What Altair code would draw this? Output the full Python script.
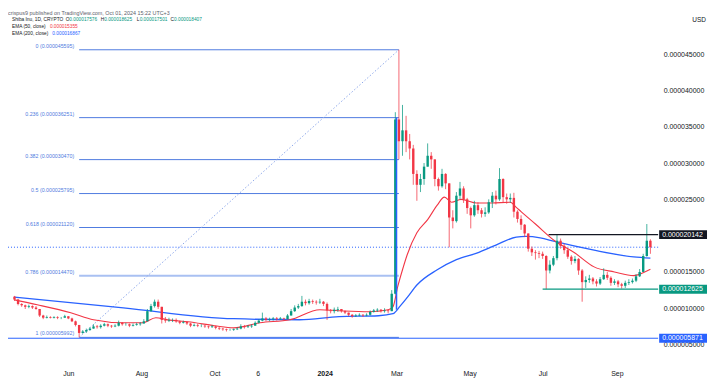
import altair as alt
import pandas as pd

# ---------------- data (prices in millionths of USD: 1 = 0.000001) ----------------
candle_start = "2023-04-17"      # 3-day candles
candle_step_days = 3
first_open = 11.6
close = [
    11.2, 10.6, 10.4, 10.2, 10.3, 10.1, 9.9, 9.0, 8.7, 8.8,
    8.7, 8.8, 8.7, 8.7, 8.9, 8.6, 8.2, 7.7, 6.6, 6.8,
    7.0, 7.2, 7.5, 7.4, 7.6, 7.8, 7.6, 7.5, 7.6, 8.0,
    7.8, 7.8, 7.6, 7.7, 7.8, 7.9, 8.2, 9.6, 10.3, 10.9,
    10.2, 8.4, 8.3, 8.4, 8.4, 8.2, 8.0, 8.1, 7.9, 7.6,
    7.7, 7.6, 7.6, 7.5, 7.4, 7.5, 7.3, 7.2, 7.1, 7.0,
    7.0, 7.1, 7.2, 7.5, 7.4, 7.5, 7.6, 8.0, 8.3, 8.6,
    8.4, 8.5, 8.6, 8.5, 8.6, 8.5, 9.0, 9.6, 10.1, 10.3,
    10.9, 10.7, 11.0, 10.9, 10.8, 10.9, 10.6, 9.7, 9.6, 9.8,
    9.9, 9.6, 9.4, 9.1, 8.9, 9.0, 9.1, 9.0, 9.1, 9.5,
    9.7, 9.8, 9.6, 9.7, 9.6, 12.0, 36.0, 33.0, 34.5, 33.0,
    32.0, 28.5, 27.0, 27.8, 29.5, 31.0, 30.5, 27.8, 26.8, 28.5,
    27.2, 22.5, 22.0, 25.5, 26.5, 25.0, 23.8, 22.8, 24.2, 23.5,
    23.0, 23.2, 24.6, 25.5, 25.0, 27.8, 25.3, 25.0, 25.2, 23.3,
    22.3, 21.5, 20.3, 18.2, 17.7, 17.6, 17.5, 17.2, 15.2, 16.0,
    16.9, 19.3, 18.6, 18.0, 17.1, 16.5, 16.8, 15.2, 13.6, 13.9,
    14.1, 13.7, 13.4, 14.0, 14.6, 14.2, 13.5, 13.7, 13.3, 13.1,
    13.5, 13.6, 13.8, 14.4, 15.0, 17.2, 19.3, 18.407,
]
high = [
    11.7, 11.3, 10.7, 10.5, 10.5, 10.4, 10.3, 9.9, 9.1, 9.0,
    8.9, 8.9, 8.9, 8.8, 9.1, 8.9, 8.7, 8.3, 7.7, 7.0,
    7.2, 7.4, 7.8, 7.7, 7.8, 8.0, 7.9, 7.7, 7.8, 8.3,
    8.1, 8.0, 7.9, 7.9, 8.0, 8.1, 8.5, 9.9, 10.6, 11.2,
    11.2, 10.2, 8.8, 8.7, 8.6, 8.6, 8.3, 8.3, 8.2, 8.0,
    7.9, 7.9, 7.8, 7.7, 7.6, 7.7, 7.6, 7.4, 7.3, 7.2,
    7.2, 7.2, 7.4, 7.8, 7.7, 7.7, 7.8, 8.2, 8.5, 9.4,
    8.8, 8.7, 8.8, 8.8, 8.8, 8.7, 9.2, 9.9, 10.4, 10.6,
    11.7, 11.2, 11.3, 11.2, 11.1, 11.3, 11.0, 10.8, 9.9, 10.1,
    10.2, 9.9, 9.7, 9.4, 9.2, 9.2, 9.3, 9.2, 9.3, 9.7,
    9.9, 10.0, 9.9, 10.0, 9.8, 12.5, 37.0, 45.6, 38.0, 36.5,
    34.0, 32.5, 29.0, 28.5, 30.0, 32.7, 31.5, 30.5, 28.0, 29.2,
    28.6, 27.2, 23.5, 26.0, 27.4, 26.8, 25.2, 24.0, 24.8, 24.6,
    23.8, 23.9, 25.0, 26.0, 26.2, 29.3, 27.9, 25.8, 25.8, 25.9,
    23.5, 22.8, 21.6, 20.3, 18.5, 18.0, 17.9, 17.8, 17.3, 16.6,
    17.2, 20.142, 19.6, 18.9, 18.2, 17.3, 17.2, 16.9, 15.4, 14.4,
    14.6, 14.3, 14.0, 14.3, 15.5, 15.0, 14.4, 14.0, 13.9, 13.5,
    13.8, 14.0, 14.1, 14.7, 15.4, 17.5, 21.6, 19.5,
]
low = [
    11.0, 10.4, 10.2, 9.9, 10.0, 9.9, 9.8, 8.8, 8.5, 8.6,
    8.6, 8.6, 8.5, 8.5, 8.7, 8.5, 8.1, 7.5, 5.992, 6.5,
    6.6, 6.9, 7.2, 7.2, 7.2, 7.5, 7.4, 7.3, 7.4, 7.5,
    7.6, 7.6, 7.4, 7.5, 7.6, 7.6, 7.9, 8.2, 9.5, 10.1,
    9.9, 7.9, 8.0, 8.1, 8.1, 8.0, 7.8, 7.9, 7.7, 7.4,
    7.5, 7.4, 7.4, 7.3, 7.2, 7.3, 7.1, 7.0, 6.9, 6.8,
    6.9, 6.9, 7.0, 7.1, 7.2, 7.3, 7.3, 7.6, 7.9, 8.2,
    8.2, 8.2, 8.3, 8.3, 8.4, 8.3, 8.5, 9.0, 9.5, 9.9,
    10.2, 10.4, 10.5, 10.6, 10.5, 10.6, 10.3, 8.4, 9.3, 9.3,
    9.5, 9.4, 9.2, 8.9, 8.7, 8.8, 8.9, 8.8, 8.9, 9.0,
    9.4, 9.5, 9.4, 9.4, 9.3, 9.6, 11.9, 30.5, 31.0, 31.5,
    30.5, 27.0, 24.8, 26.0, 27.0, 29.5, 29.2, 26.8, 26.2, 26.6,
    26.4, 18.4, 21.0, 21.8, 25.0, 24.5, 23.0, 21.0, 22.6, 23.0,
    22.5, 22.6, 23.0, 23.8, 24.3, 24.8, 24.6, 24.4, 24.5, 22.5,
    21.8, 20.8, 19.8, 17.8, 17.2, 16.7, 16.9, 16.8, 12.625, 14.8,
    15.8, 16.6, 18.2, 17.5, 16.8, 16.0, 16.2, 14.6, 10.9, 12.8,
    13.5, 13.3, 13.0, 13.2, 13.9, 13.9, 13.1, 13.2, 12.9, 12.7,
    12.8, 13.2, 13.4, 13.6, 14.3, 15.0, 17.1, 17.5,
]

ema50_dates = [
    "2023-04-17", "2023-05-06", "2023-06-03", "2023-06-22", "2023-07-17", "2023-08-02",
    "2023-08-13", "2023-08-23", "2023-09-09", "2023-10-01", "2023-10-17", "2023-11-08",
    "2023-12-03", "2023-12-28", "2024-01-13", "2024-02-07", "2024-02-23", "2024-02-27",
    "2024-03-02", "2024-03-06", "2024-03-10", "2024-03-18", "2024-03-27", "2024-04-04",
    "2024-04-10", "2024-04-16", "2024-04-24", "2024-05-07", "2024-05-19", "2024-06-04",
    "2024-06-09", "2024-06-13", "2024-06-25", "2024-07-11", "2024-07-28", "2024-08-13",
    "2024-08-30", "2024-09-15", "2024-09-23", "2024-09-29",
]
ema50_values = [
    11.15, 10.48, 9.38, 8.42, 8.0, 8.0,
    8.7, 8.4, 8.14, 7.6, 7.3, 8.0,
    8.42, 9.8, 9.66, 9.52, 9.8, 10.2,
    12.97, 15.3, 17.4, 20.4, 22.2, 24.2,
    25.3, 24.6, 25.0, 24.5, 24.5, 24.6,
    23.9, 23.3, 21.6, 19.3, 17.6, 15.7,
    15.0, 14.5, 14.9, 15.36,
]
ema200_dates = [
    "2023-04-17", "2023-07-17", "2023-10-17", "2023-12-11", "2024-01-13", "2024-02-15",
    "2024-02-27", "2024-03-04", "2024-03-10", "2024-03-18", "2024-04-04", "2024-04-20",
    "2024-05-07", "2024-05-23", "2024-06-09", "2024-06-17", "2024-06-29", "2024-07-11",
    "2024-08-13", "2024-09-15", "2024-09-29",
]
ema200_values = [
    11.54, 10.05, 8.56, 8.42, 8.84, 8.97,
    9.25, 10.3, 11.5, 13.2, 15.3, 16.7,
    17.6, 18.7, 19.8, 19.9, 19.7, 19.2,
    18.0, 17.07, 16.9,
]

fib_start = "2023-06-10"
fib_end = "2024-03-03"
fib_ratios = ["0", "0.236", "0.382", "0.5", "0.618", "0.786", "1"]
fib_prices = [45.595, 36.251, 30.470, 25.795, 21.120, 14.470, 5.992]

marker_date = "2024-03-01"
marker_range = [9.8, 36.251]

last_price = 18.407
resistance_price, resistance_start = 20.142, "2024-07-06"
support_price, support_start = 12.625, "2024-07-01"
floor_price = 5.871

month_ticks = ["2023-06-01", "2023-08-01", "2023-10-01", "2023-11-06", "2024-01-01",
               "2024-03-01", "2024-05-01", "2024-07-01", "2024-09-01"]
month_labels = ["Jun", "Aug", "Oct", "6", "2024", "Mar", "May", "Jul", "Sep"]
price_ticks = [5, 10, 15, 20, 25, 30, 35, 40, 45]

legend_ohlc = [("O", 17.576), ("H", 18.625), ("L", 17.501), ("C", 18.407)]
ema50_last = 15.355
ema200_last = 16.867

# ---------------- helpers ----------------
BASE = pd.Timestamp("2023-06-01")


def to_day(s):
    return (pd.Timestamp(s) - BASE).days


def usd(v):
    return f"{v / 1e6:.9f}"


FONT = "Liberation Sans"
UP, DOWN = "#089981", "#f23645"
BLUE = "#2962ff"
FIB_BLUE = "#4f7be0"
DARK = "#131722"

W, H = 652, 339
X_DOMAIN = [-46.24, 488.3]
Y_DOMAIN = [3.627, 50.177]

tick_days = [to_day(t) for t in month_ticks]
label_expr = " : ".join(f"datum.value == {d} ? '{lab}'" for d, lab in zip(tick_days, month_labels)) + " : ''"
bold_day = tick_days[month_labels.index("2024")]

xs = alt.Scale(domain=X_DOMAIN, nice=False, zero=False)
ys = alt.Scale(domain=Y_DOMAIN, nice=False, zero=False)
x_axis = alt.Axis(values=tick_days, labelExpr=label_expr, title=None, grid=False, domain=False,
                  ticks=False, labelPadding=15, labelFontSize=7, labelColor=DARK, labelFont=FONT,
                  labelOverlap=False, labelFlush=False,
                  labelFontWeight={"condition": {"test": f"datum.value == {bold_day}", "value": "bold"},
                                   "value": "normal"})
y_axis = alt.Axis(orient="right", values=price_ticks, labelExpr="format(datum.value / 1000000, '.9f')",
                  title=None, grid=False, domain=False, ticks=False, labelPadding=5, labelFontSize=7,
                  labelColor=DARK, labelFont=FONT)


def X(f):
    return alt.X(f"{f}:Q", scale=xs, axis=x_axis)


def Y(f):
    return alt.Y(f"{f}:Q", scale=ys, axis=y_axis)


# ---------------- tables ----------------
dates = pd.date_range(candle_start, periods=len(close), freq=f"{candle_step_days}D")
candles = pd.DataFrame({
    "d": (dates - BASE).days,
    "open": [first_open] + close[:-1],
    "close": close, "high": high, "low": low,
})
ema50 = pd.DataFrame({"d": [to_day(s) for s in ema50_dates], "v": ema50_values})
ema200 = pd.DataFrame({"d": [to_day(s) for s in ema200_dates], "v": ema200_values})
fib = pd.DataFrame({
    "x0": to_day(fib_start), "x1": to_day(fib_end),
    "v": fib_prices, "ratio": fib_ratios,
    "label": [f"{r} ({usd(p)})" for r, p in zip(fib_ratios, fib_prices)],
})
diag = pd.DataFrame({"x0": [to_day(fib_start)], "x1": [to_day(fib_end)],
                     "y0": [min(fib_prices)], "y1": [max(fib_prices)]})
marker = pd.DataFrame({"d": [to_day(marker_date)], "lo": [marker_range[0]], "hi": [marker_range[1]]})
full_lines = pd.DataFrame({"v": [floor_price]})
price_line = pd.DataFrame({"v": [last_price]})
partial = pd.DataFrame({"x0": [to_day(resistance_start), to_day(support_start)],
                        "v": [resistance_price, support_price], "kind": ["res", "sup"]})
tags = pd.DataFrame({"v": [resistance_price, support_price, floor_price],
                     "kind": ["res", "sup", "floor"]})
tags["label"] = [usd(v) for v in tags["v"]]
tag_color = alt.Color("kind:N", scale=alt.Scale(domain=["res", "sup", "floor"], range=[DARK, UP, BLUE]),
                      legend=None)

# ---------------- layers ----------------
fib_main = alt.Chart(fib[fib.ratio != "0.786"]).mark_rule(color=FIB_BLUE, strokeWidth=1).encode(
    x=X("x0"), x2="x1:Q", y=Y("v"))
fib_786 = alt.Chart(fib[fib.ratio == "0.786"]).mark_rule(color="#a9c0f2", strokeWidth=2).encode(
    x=X("x0"), x2="x1:Q", y=Y("v"))
fib_text = alt.Chart(fib).mark_text(align="right", baseline="middle", dx=-5, dy=-4, fontSize=5.3,
                                    font=FONT, color=FIB_BLUE).encode(x=X("x0"), y=Y("v"), text="label:N")
diag_line = alt.Chart(diag).mark_rule(color="#8fa9ea", strokeDash=[1.5, 2], strokeWidth=1).encode(
    x=X("x0"), x2="x1:Q", y=Y("y0"), y2="y1:Q")
marker_rule = alt.Chart(marker).mark_rule(color=BLUE, strokeWidth=1.5).encode(
    x=X("d"), y=Y("lo"), y2="hi:Q")
floor_rule = alt.Chart(full_lines).mark_rule(color=BLUE, strokeWidth=1).encode(
    x=alt.value(0), x2=alt.value(W), y=Y("v"))
price_rule = alt.Chart(price_line).mark_rule(color=BLUE, strokeDash=[1, 2], strokeWidth=1).encode(
    x=alt.value(0), x2=alt.value(W), y=Y("v"))

ema200_line = alt.Chart(ema200).mark_line(color=BLUE, strokeWidth=1.3, interpolate="monotone").encode(
    x=X("d"), y=Y("v"))
ema50_line = alt.Chart(ema50).mark_line(color=DOWN, strokeWidth=1.1, interpolate="monotone").encode(
    x=X("d"), y=Y("v"))

candle_color = alt.condition(alt.datum.close >= alt.datum.open, alt.value(UP), alt.value(DOWN))
wicks = alt.Chart(candles).mark_rule(strokeWidth=1, opacity=0.75).encode(
    x=X("d"), y=Y("low"), y2="high:Q", color=candle_color)
bodies = alt.Chart(candles).mark_bar(width=2.4).encode(
    x=X("d"), y=Y("open"), y2="close:Q", color=candle_color)

partial_rules = alt.Chart(partial).mark_rule(strokeWidth=1.2).encode(
    x=X("x0"), x2=alt.value(W), y=Y("v"), color=tag_color)
tag_rect = alt.Chart(tags).mark_rect(yOffset=-4.5, y2Offset=4.5).encode(
    x=alt.value(653), x2=alt.value(701), y=Y("v"), y2="v:Q", color=tag_color)
tag_text = alt.Chart(tags).mark_text(align="left", baseline="middle", fontSize=7, font=FONT,
                                     color="white").encode(x=alt.value(656), y=Y("v"), text="label:N")


def txt(s, x, y, color, size=4.8, align="left"):
    return alt.Chart(pd.DataFrame({"t": [s]})).mark_text(
        align=align, baseline="middle", fontSize=size, font=FONT, color=color).encode(
        x=alt.value(x), y=alt.value(y), text="t:N")


header = [
    txt("crispus9 published on TradingView.com, Oct 01, 2024 15:22 UTC+3", 0, -4, "#5d606b", 5.4),
    txt("Shiba Inu, 1D, CRYPTO", 4, 3.7, DARK),
    txt("EMA (50, close)", 4, 10.7, DARK),
    txt(usd(ema50_last), 42, 10.7, DOWN),
    txt("EMA (200, close)", 4, 17.3, DARK),
    txt(usd(ema200_last), 44.5, 17.3, BLUE),
    txt("USD", 700, 4, DARK, 6.5, "right"),
]
ohlc_x = [(58, 61.5), (93, 96.5), (129, 132), (163, 166.5)]
for (letter, val), (xl, xv) in zip(legend_ohlc, ohlc_x):
    header.append(txt(letter, xl, 3.7, DARK))
    header.append(txt(usd(val), xv, 3.7, UP))

chart = alt.layer(
    fib_main, fib_786, diag_line, fib_text, floor_rule, price_rule,
    ema200_line, ema50_line, wicks, bodies, marker_rule, partial_rules, tag_rect, tag_text, *header,
).properties(
    width=W, height=H,
    padding={"left": 0, "top": 8, "right": 52, "bottom": 24},
    autosize=alt.AutoSizeParams(type="none"),
    background="white",
).configure_view(stroke=None)

chart.save("out.html", embed_options={"renderer": "svg", "actions": False})
